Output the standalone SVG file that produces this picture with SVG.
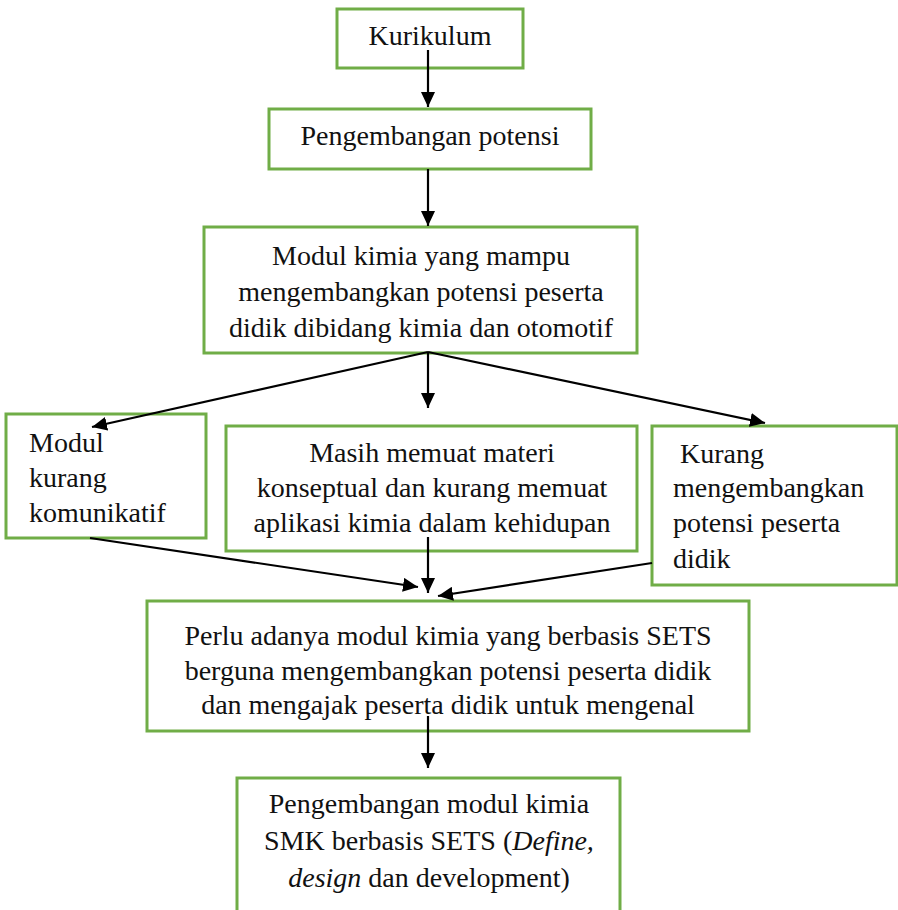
<svg xmlns="http://www.w3.org/2000/svg" width="898" height="910" viewBox="0 0 898 910">
<style>
.box{fill:#ffffff;stroke:#70AD47;stroke-width:3}
text{font-family:"Liberation Serif","Times New Roman",serif;font-size:28px;fill:#111}
.c{text-anchor:middle}
.con{stroke:#000;stroke-width:2.2;fill:none;marker-end:url(#ah)}
</style>
<defs>
<marker id="ah" markerUnits="userSpaceOnUse" markerWidth="16" markerHeight="14" refX="15" refY="7" orient="auto">
<path d="M0,0 L15,7 L0,14 z" fill="#000"/>
</marker>
</defs>
<rect width="898" height="910" fill="#fff"/>
<g id="n-kurikulum">
<rect class="box" x="337" y="9" width="186" height="59"/>
<text class="c" x="430" y="45">Kurikulum</text>
</g>
<g id="n-pengembangan">
<rect class="box" x="269" y="109" width="322" height="60"/>
<text class="c" x="430" y="145">Pengembangan potensi</text>
</g>
<g id="n-modul-kimia">
<rect class="box" x="204" y="227" width="433" height="126"/>
<text class="c" x="421" y="265">Modul kimia yang mampu</text>
<text class="c" x="421" y="301">mengembangkan potensi peserta</text>
<text class="c" x="421" y="337">didik dibidang kimia dan otomotif</text>
</g>
<g id="n-kurang-komunikatif">
<rect class="box" x="6" y="414" width="200" height="124"/>
<text x="29" y="452">Modul</text>
<text x="29" y="487">kurang</text>
<text x="29" y="522">komunikatif</text>
</g>
<g id="n-materi">
<rect class="box" x="226" y="426" width="411" height="125"/>
<text class="c" x="432" y="462">Masih memuat materi</text>
<text class="c" x="432" y="497">konseptual dan kurang memuat</text>
<text class="c" x="432" y="532">aplikasi kimia dalam kehidupan</text>
</g>
<g id="n-kurang-potensi">
<rect class="box" x="652" y="426" width="245" height="159"/>
<text x="680" y="463">Kurang</text>
<text x="673" y="497">mengembangkan</text>
<text x="673" y="532">potensi peserta</text>
<text x="673" y="568">didik</text>
</g>
<g id="n-perlu">
<rect class="box" x="147" y="601" width="602" height="130"/>
<text class="c" x="448" y="645">Perlu adanya modul kimia yang berbasis SETS</text>
<text class="c" x="448" y="680">berguna mengembangkan potensi peserta didik</text>
<text class="c" x="448" y="714">dan mengajak peserta didik untuk mengenal</text>
</g>
<g id="n-pengembangan-modul">
<rect class="box" x="237" y="778" width="383" height="140"/>
<text class="c" x="429" y="813">Pengembangan modul kimia</text>
<text class="c" x="429" y="850">SMK berbasis SETS (<tspan font-style="italic">Define,</tspan></text>
<text class="c" x="429" y="887"><tspan font-style="italic">design</tspan> dan development)</text>
</g>
<g id="connectors">
<line class="con" x1="428" y1="50" x2="428" y2="107"/>
<line class="con" x1="428" y1="169" x2="428" y2="226"/>
<line class="con" x1="428" y1="352" x2="428" y2="408"/>
<line class="con" x1="428" y1="352" x2="92" y2="427"/>
<line class="con" x1="428" y1="352" x2="765" y2="423"/>
<line class="con" x1="90" y1="538" x2="418" y2="587"/>
<line class="con" x1="428" y1="537" x2="428" y2="593"/>
<line class="con" x1="652" y1="563" x2="438" y2="596"/>
<line class="con" x1="428" y1="716" x2="428" y2="768"/>
</g>
</svg>
